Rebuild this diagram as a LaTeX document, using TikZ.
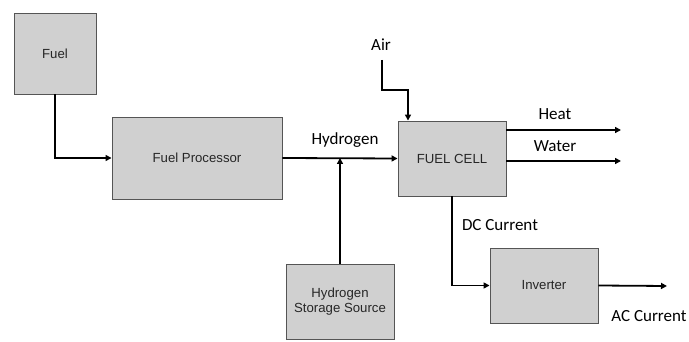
\documentclass[tikz,border=0pt]{standalone}
\usepackage{fontspec}
\setmainfont{Liberation Sans}
\newfontfamily\lblfont{Carlito}
\usetikzlibrary{arrows.meta}
\definecolor{boxfill}{HTML}{D0D0D0}
\definecolor{boxline}{HTML}{555555}
\tikzset{
  blk/.style={draw=boxline, line width=0.9pt, fill=boxfill, inner sep=0pt, font=\fontsize{13.2}{15.5}\selectfont, text=black!85, align=center},
  arr/.style={line width=1.8pt, -{Triangle[length=6pt,width=6pt]}},
  lbl/.style={font=\lblfont\fontsize{17}{19}\selectfont, inner sep=0pt}
}
\begin{document}
\begin{tikzpicture}[x=1pt,y=-1pt]
\useasboundingbox (0,0) rectangle (689,342);
\node[blk, minimum width=82pt, minimum height=81pt] (fuel) at (55,53.5) {Fuel};
\node[blk, minimum width=170pt, minimum height=82pt] (proc) at (197,158) {Fuel Processor};
\node[blk, minimum width=108pt, minimum height=75pt] (cell) at (452,158.5) {FUEL CELL};
\node[blk, minimum width=108pt, minimum height=75pt] (store) at (340,301.5) {Hydrogen\\Storage Source};
\node[blk, minimum width=108pt, minimum height=75pt] (inv) at (544,285.5) {Inverter};
\coordinate (airtop) at (382,60);
\coordinate (heatend) at (621,130);
\coordinate (waterend) at (621,161);
\coordinate (acend) at (667,286);
\draw[arr] (fuel.south) |- (proc.west);
\draw[arr] (proc.east) -- (cell.west);
\draw[arr] (store.north) -- (store.north |- proc.east);
\draw[arr] (airtop) -- ++(0,30) -| ([xshift=-44pt]cell.north);
\draw[arr] (cell.east |- heatend) -- (heatend);
\draw[arr] (cell.east |- waterend) -- (waterend);
\draw[arr] (cell.south) |- (inv.west);
\draw[arr] (inv.east) -- (acend);
\node[lbl] (hlbl) at (345,140) {Hydrogen};
\node[lbl] (airlbl) at (381,44.5) {Air};
\node[lbl] (heatlbl) at (555,114) {Heat};
\node[lbl] (waterlbl) at (555,146) {Water};
\node[lbl] (dclbl) at (500,225) {DC Current};
\node[lbl] (aclbl) at (649,316) {AC Current};
\end{tikzpicture}
\end{document}
